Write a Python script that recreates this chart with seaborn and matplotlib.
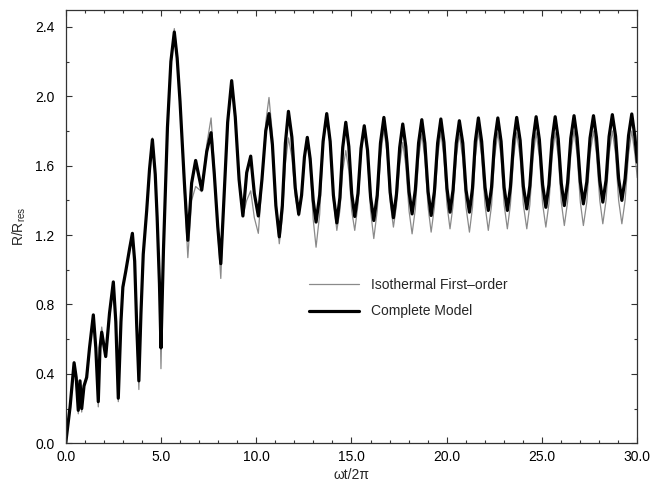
import matplotlib
matplotlib.use("Agg")
import matplotlib.pyplot as plt
import seaborn as sns
import numpy as np
from matplotlib.ticker import MultipleLocator, FormatStrFormatter

# ---- data (x = omega t / 2 pi) ----
t = [
    0.00, 0.23, 0.44, 0.55, 0.66, 0.75, 0.84, 0.96, 1.10, 1.25,
    1.45, 1.58, 1.71, 1.80, 1.89, 2.10, 2.30, 2.50, 2.63, 2.76,
    2.90, 3.00, 3.15, 3.35, 3.50, 3.62, 3.72, 3.84, 3.95, 4.07,
    4.25, 4.40, 4.55, 4.70, 4.80, 4.92, 5.00, 5.13, 5.34, 5.52,
    5.70, 5.85, 6.00, 6.23, 6.41, 6.61, 6.82, 7.14, 7.40, 7.63,
    7.80, 7.98, 8.14, 8.30, 8.50, 8.71, 8.90, 9.10, 9.30, 9.50,
    9.71, 9.90, 10.11, 10.30, 10.50, 10.67, 10.85, 11.03, 11.21, 11.37,
    11.53, 11.69, 11.87, 12.05, 12.23, 12.38, 12.53, 12.68, 12.83, 12.99,
    13.14, 13.33, 13.51, 13.70, 13.88, 14.05, 14.23, 14.39, 14.54, 14.70,
    14.86, 15.01, 15.17, 15.34, 15.50, 15.67, 15.84, 16.00, 16.17, 16.35,
    16.52, 16.70, 16.87, 17.03, 17.20, 17.36, 17.53, 17.69, 17.85, 18.02,
    18.18, 18.35, 18.52, 18.69, 18.85, 19.02, 19.18, 19.35, 19.52, 19.69,
    19.85, 20.01, 20.17, 20.33, 20.50, 20.66, 20.84, 21.01, 21.19, 21.35,
    21.50, 21.66, 21.83, 22.01, 22.18, 22.35, 22.51, 22.68, 22.85, 23.01,
    23.18, 23.34, 23.51, 23.67, 23.85, 24.02, 24.20, 24.36, 24.53, 24.69,
    24.86, 25.03, 25.20, 25.36, 25.53, 25.69, 25.85, 26.01, 26.17, 26.34,
    26.51, 26.68, 26.84, 27.01, 27.17, 27.35, 27.52, 27.70, 27.86, 28.03,
    28.19, 28.36, 28.52, 28.69, 28.86, 29.02, 29.19, 29.36, 29.54, 29.71,
    29.87, 30.00,
]

complete_model = [
    0.00, 0.21, 0.464, 0.38, 0.19, 0.36, 0.20, 0.33, 0.38, 0.55,
    0.74, 0.55, 0.24, 0.55, 0.64, 0.50, 0.75, 0.93, 0.70, 0.26,
    0.70, 0.90, 0.99, 1.12, 1.21, 1.05, 0.70, 0.36, 0.75, 1.09,
    1.34, 1.58, 1.75, 1.55, 1.30, 0.92, 0.55, 1.11, 1.82, 2.20,
    2.37, 2.22, 1.97, 1.50, 1.17, 1.50, 1.63, 1.46, 1.68, 1.79,
    1.55, 1.25, 1.035, 1.40, 1.85, 2.09, 1.88, 1.52, 1.31, 1.56,
    1.655, 1.44, 1.31, 1.52, 1.80, 1.90, 1.72, 1.37, 1.19, 1.37,
    1.73, 1.913, 1.765, 1.47, 1.32, 1.43, 1.65, 1.763, 1.64, 1.40,
    1.275, 1.43, 1.74, 1.90, 1.74, 1.43, 1.27, 1.415, 1.705, 1.85,
    1.71, 1.44, 1.307, 1.44, 1.70, 1.83, 1.69, 1.42, 1.284, 1.43,
    1.73, 1.878, 1.73, 1.445, 1.30, 1.435, 1.705, 1.84, 1.71, 1.45,
    1.322, 1.46, 1.73, 1.865, 1.73, 1.45, 1.313, 1.45, 1.73, 1.869,
    1.735, 1.47, 1.332, 1.46, 1.73, 1.859, 1.73, 1.46, 1.332, 1.47,
    1.74, 1.875, 1.74, 1.475, 1.342, 1.475, 1.74, 1.875, 1.74, 1.475,
    1.342, 1.476, 1.744, 1.878, 1.746, 1.48, 1.351, 1.484, 1.75, 1.882,
    1.75, 1.49, 1.36, 1.49, 1.75, 1.882, 1.754, 1.498, 1.37, 1.50,
    1.758, 1.888, 1.76, 1.507, 1.38, 1.507, 1.76, 1.888, 1.76, 1.515,
    1.39, 1.516, 1.768, 1.894, 1.77, 1.525, 1.40, 1.525, 1.773, 1.898,
    1.77, 1.62,
]

isothermal_first_order = [
    0.00, 0.21, 0.47, 0.36, 0.17, 0.35, 0.18, 0.33, 0.38, 0.55,
    0.74, 0.55, 0.21, 0.57, 0.67, 0.50, 0.75, 0.93, 0.70, 0.24,
    0.68, 0.88, 0.99, 1.12, 1.21, 1.05, 0.65, 0.31, 0.72, 1.09,
    1.34, 1.58, 1.76, 1.55, 1.30, 0.90, 0.43, 1.08, 1.82, 2.20,
    2.39, 2.24, 1.98, 1.45, 1.07, 1.40, 1.48, 1.45, 1.72, 1.875,
    1.60, 1.22, 0.95, 1.38, 1.85, 2.09, 1.88, 1.50, 1.31, 1.40,
    1.455, 1.30, 1.21, 1.50, 1.85, 1.993, 1.78, 1.36, 1.15, 1.30,
    1.61, 1.76, 1.65, 1.42, 1.31, 1.42, 1.65, 1.76, 1.60, 1.29,
    1.13, 1.32, 1.71, 1.90, 1.73, 1.40, 1.227, 1.34, 1.57, 1.687,
    1.57, 1.34, 1.227, 1.375, 1.67, 1.82, 1.66, 1.34, 1.18, 1.34,
    1.65, 1.811, 1.67, 1.39, 1.246, 1.37, 1.61, 1.734, 1.60, 1.34,
    1.207, 1.35, 1.64, 1.783, 1.64, 1.36, 1.217, 1.36, 1.65, 1.792,
    1.65, 1.375, 1.236, 1.37, 1.65, 1.783, 1.64, 1.36, 1.217, 1.36,
    1.65, 1.798, 1.655, 1.37, 1.227, 1.37, 1.65, 1.79, 1.65, 1.375,
    1.236, 1.375, 1.65, 1.79, 1.65, 1.375, 1.236, 1.375, 1.65, 1.79,
    1.654, 1.38, 1.246, 1.38, 1.654, 1.79, 1.654, 1.39, 1.255, 1.39,
    1.664, 1.80, 1.664, 1.39, 1.255, 1.39, 1.664, 1.80, 1.666, 1.40,
    1.265, 1.40, 1.666, 1.80, 1.666, 1.40, 1.265, 1.40, 1.666, 1.80,
    1.67, 1.53,
]

x_ticks = [0.0, 5.0, 10.0, 15.0, 20.0, 25.0, 30.0]
y_ticks = [0.0, 0.4, 0.8, 1.2, 1.6, 2.0, 2.4]
label_iso = "Isothermal First\u2013order"
label_complete = "Complete Model"

# ---- styling ----
sns.set_style("ticks")
plt.rcParams["font.family"] = ["Liberation Sans", "DejaVu Sans"]
plt.rcParams["mathtext.fontset"] = "custom"
plt.rcParams["mathtext.rm"] = "Liberation Sans"
plt.rcParams["mathtext.it"] = "Liberation Sans"

W, H = 651, 487
fig = plt.figure(figsize=(W / 100, H / 100), dpi=100)
left, right, top, bottom = 65.7, 637.3, 9.5, 443.3
ax = fig.add_axes([left / W, 1 - bottom / H, (right - left) / W, (bottom - top) / H])

sns.lineplot(x=t, y=isothermal_first_order, ax=ax, color="#8a8a8a", lw=0.9,
             label=label_iso, estimator=None, errorbar=None, sort=False,
             solid_joinstyle="round")
sns.lineplot(x=t, y=complete_model, ax=ax, color="black", lw=2.3,
             label=label_complete, estimator=None, errorbar=None, sort=False,
             solid_joinstyle="round", solid_capstyle="round")

ax.set_xlim(0, 30)
ax.set_ylim(0, 2.5)
ax.set_xticks(x_ticks)
ax.set_yticks(y_ticks)
ax.xaxis.set_minor_locator(MultipleLocator(1.0))
ax.yaxis.set_minor_locator(MultipleLocator(0.2))
ax.xaxis.set_major_formatter(FormatStrFormatter("%.1f"))
ax.yaxis.set_major_formatter(FormatStrFormatter("%.1f"))
ax.tick_params(which="both", direction="in", top=True, right=True,
               width=0.8, color="#333333", labelsize=10, labelcolor="black")
ax.tick_params(which="major", length=4)
ax.tick_params(which="minor", length=2)
ax.tick_params(axis="y", pad=8)
ax.tick_params(axis="x", pad=5)
for s in ax.spines.values():
    s.set_linewidth(0.9)
    s.set_color("#333333")

ax.set_xlabel("\u03c9t/2\u03c0", fontsize=10, labelpad=3)
ax.set_ylabel(r"R/R$_{\rm res}$", fontsize=10, labelpad=5)

ax.legend(loc="upper left", bbox_to_anchor=(302 / W, 1 - 271 / H),
          bbox_transform=fig.transFigure, frameon=False, fontsize=10,
          borderpad=0, handlelength=3.6, handletextpad=0.9, labelspacing=0.9)

fig.savefig("out.png", dpi=100)
